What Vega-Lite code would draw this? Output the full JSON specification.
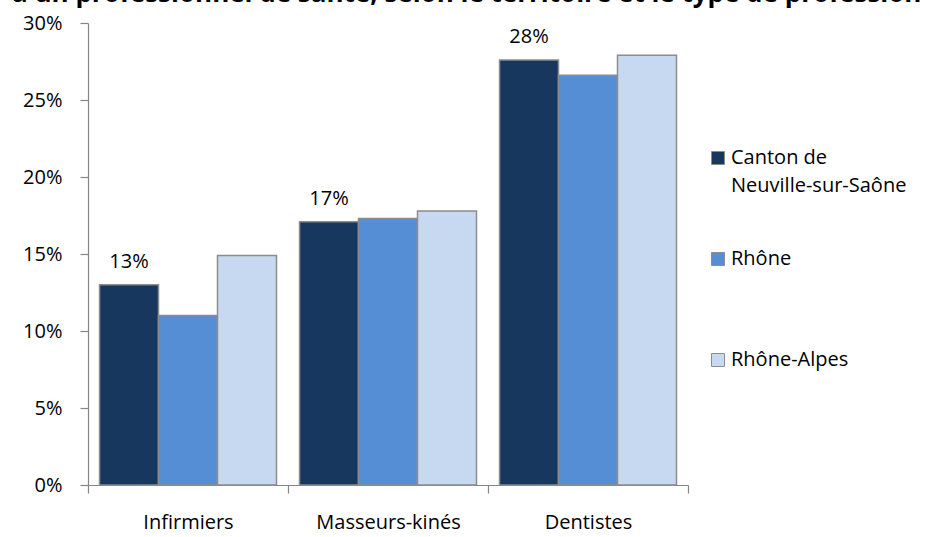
{
  "$schema": "https://vega.github.io/schema/vega-lite/v6.json",
  "width": 600,
  "height": 462,
  "autosize": {"type": "none"},
  "padding": {"left": 88, "top": 23, "right": 248, "bottom": 52},
  "background": "white",
  "config": {
    "view": {"stroke": null},
    "font": "Open Sans",
    "style": {"guide-label": {"lineHeight": 28}}
  },
  "title": {
    "text": "à un professionnel de santé, selon le territoire et le type de profession",
    "anchor": "start",
    "frame": "group",
    "dx": -76,
    "dy": 20,
    "offset": 5,
    "baseline": "alphabetic",
    "font": "Open Sans",
    "fontSize": 26,
    "fontWeight": "bold",
    "color": "#000000"
  },
  "data": {
    "values": [
      {"profession": "Infirmiers", "territoire": "Canton de Neuville-sur-Saône", "part": 0.130},
      {"profession": "Infirmiers", "territoire": "Rhône", "part": 0.110},
      {"profession": "Infirmiers", "territoire": "Rhône-Alpes", "part": 0.149},
      {"profession": "Masseurs-kinés", "territoire": "Canton de Neuville-sur-Saône", "part": 0.171},
      {"profession": "Masseurs-kinés", "territoire": "Rhône", "part": 0.173},
      {"profession": "Masseurs-kinés", "territoire": "Rhône-Alpes", "part": 0.178},
      {"profession": "Dentistes", "territoire": "Canton de Neuville-sur-Saône", "part": 0.276},
      {"profession": "Dentistes", "territoire": "Rhône", "part": 0.266},
      {"profession": "Dentistes", "territoire": "Rhône-Alpes", "part": 0.279}
    ]
  },
  "encoding": {
    "x": {
      "field": "profession",
      "type": "nominal",
      "sort": ["Infirmiers", "Masseurs-kinés", "Dentistes"],
      "scale": {"paddingInner": 0, "paddingOuter": 0},
      "axis": {
        "title": null,
        "tickBand": "extent",
        "labelAngle": 0,
        "labelFont": "Open Sans",
        "labelFontSize": 20,
        "labelColor": "#000000",
        "labelPadding": 19,
        "tickSize": 8,
        "domainColor": "#868686",
        "tickColor": "#868686",
        "domainWidth": 1.2,
        "tickWidth": 1.2
      }
    },
    "xOffset": {
      "field": "territoire",
      "type": "nominal",
      "sort": ["Canton de Neuville-sur-Saône", "Rhône", "Rhône-Alpes"],
      "scale": {"paddingInner": 0, "paddingOuter": 0.195}
    },
    "y": {
      "field": "part",
      "type": "quantitative",
      "scale": {"domain": [0, 0.3], "nice": false},
      "axis": {
        "title": null,
        "values": [0, 0.05, 0.1, 0.15, 0.2, 0.25, 0.3],
        "format": ".0%",
        "grid": false,
        "labelFont": "Open Sans",
        "labelFontSize": 20,
        "labelColor": "#000000",
        "labelPadding": 18,
        "tickSize": 8,
        "domainColor": "#868686",
        "tickColor": "#868686",
        "domainWidth": 1.2,
        "tickWidth": 1.2
      }
    }
  },
  "layer": [
    {
      "mark": {"type": "bar", "stroke": "#8c8c8c", "strokeWidth": 1.5},
      "encoding": {
        "color": {
          "field": "territoire",
          "type": "nominal",
          "sort": ["Canton de Neuville-sur-Saône", "Rhône", "Rhône-Alpes"],
          "scale": {
            "domain": ["Canton de Neuville-sur-Saône", "Rhône", "Rhône-Alpes"],
            "range": ["#17375E", "#558ED5", "#C6D9F1"]
          },
          "legend": {
            "title": null,
            "orient": "none",
            "legendX": 620,
            "legendY": 125,
            "padding": 0,
            "symbolType": "square",
            "symbolSize": 169,
            "symbolStrokeColor": "#8c8c8c",
            "symbolStrokeWidth": 1,
            "labelFont": "Open Sans",
            "labelFontSize": 20,
            "labelColor": "#000000",
            "labelOffset": 3,
            "labelLimit": 300,
            "labelBaseline": "middle",
            "rowPadding": 25,
            "labelExpr": "datum.label == 'Canton de Neuville-sur-Saône' ? ['Canton de', 'Neuville-sur-Saône', ''] : [datum.label, '', '']"
          }
        }
      }
    },
    {
      "transform": [{"filter": "datum.territoire == 'Canton de Neuville-sur-Saône'"}],
      "mark": {"type": "text", "baseline": "alphabetic", "dy": -17, "fontSize": 20, "font": "Open Sans", "color": "#000000"},
      "encoding": {
        "text": {"field": "part", "type": "quantitative", "format": ".0%"}
      }
    }
  ]
}
